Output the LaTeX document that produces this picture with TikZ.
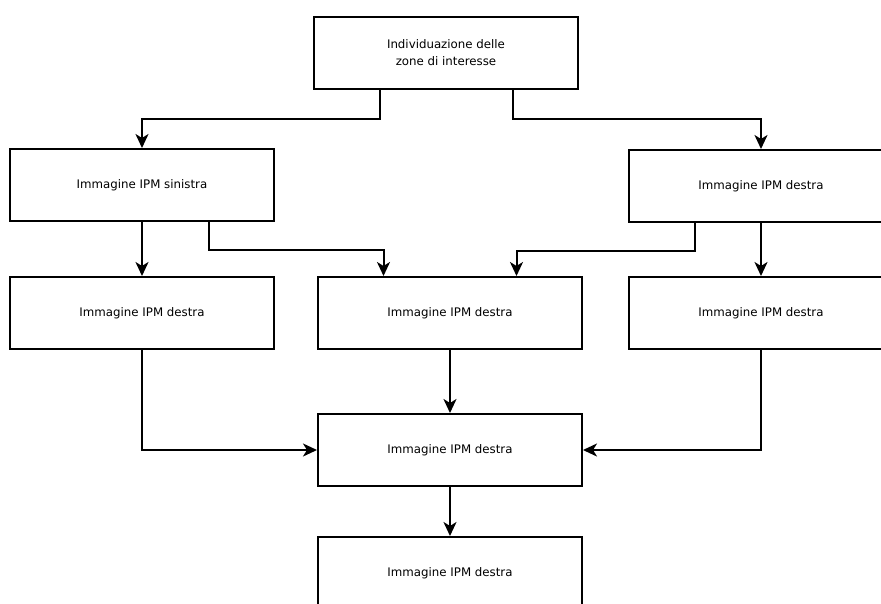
\documentclass[tikz,border=0pt]{standalone}
\usepackage{fontspec}
\setmainfont{DejaVu Sans}
\usetikzlibrary{arrows.meta,calc}
\begin{document}
\begin{tikzpicture}[x=1pt,y=-1pt,
  box/.style={draw,line width=2pt,minimum width=264pt,minimum height=72pt,inner sep=0pt,align=center,font=\fontsize{11.8}{17}\selectfont},
  conn/.style={line width=2pt},
  arr/.style={conn,-{Stealth[length=14pt,width=13pt,inset=4pt]}}]
\clip (0,0) rectangle (881,603);
\fill[white] (0,0) rectangle (881,603);
\node[box] (top) at (446,53) {Individuazione delle\\zone di interesse};
\node[box] (L1) at (142,185) {Immagine IPM sinistra};
\node[box] (R1) at (761,186) {Immagine IPM destra};
\node[box] (L2) at (142,313) {Immagine IPM destra};
\node[box] (M2) at (450,313) {Immagine IPM destra};
\node[box] (R2) at (761,313) {Immagine IPM destra};
\node[box] (M3) at (450,450) {Immagine IPM destra};
\node[box] (B) at (450,573) {Immagine IPM destra};
\coordinate (topL) at ($(top.south west)!0.25!(top.south east)$);
\coordinate (topR) at ($(top.south west)!0.75!(top.south east)$);
\coordinate (L1r) at ($(L1.south west)!0.75!(L1.south east)$);
\coordinate (R1l) at ($(R1.south west)!0.25!(R1.south east)$);
\coordinate (M2l) at ($(M2.north west)!0.25!(M2.north east)$);
\coordinate (M2r) at ($(M2.north west)!0.75!(M2.north east)$);
\draw[arr] (topL) -- ++(0,29) -| (L1.north);
\draw[arr] (topR) -- ++(0,29) -| (R1.north);
\draw[arr] (L1.south) -- (L2.north);
\draw[arr] (R1.south) -- (R2.north);
\draw[arr] (L1r) -- ++(0,28) -| (M2l);
\draw[arr] (R1l) -- ++(0,28) -| (M2r);
\draw[arr] (L2.south) |- (M3.west);
\draw[arr] (R2.south) |- (M3.east);
\draw[arr] (M2.south) -- (M3.north);
\draw[arr] (M3.south) -- (B.north);
\end{tikzpicture}
\end{document}
